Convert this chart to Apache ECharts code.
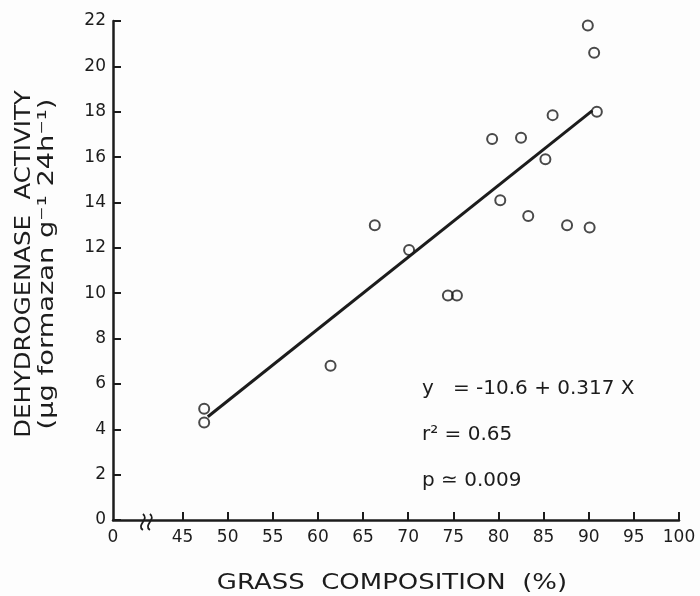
<!DOCTYPE html>
<html>
<head>
<meta charset="utf-8">
<script src="https://cdn.jsdelivr.net/npm/echarts@6/dist/echarts.min.js"></script>
<style>
  html, body { margin: 0; padding: 0; background: #fdfdfd; }
  #chart { width: 700px; height: 596px; }
</style>
</head>
<body>
<div id="chart"></div>
<script>
// grass composition (%) vs dehydrogenase activity
const grassPct = [47.4, 47.4, 61.4, 66.3, 70.1, 74.4, 75.4, 79.3, 80.2, 82.5, 83.3, 85.2, 86.0, 87.6, 89.9, 90.1, 90.6, 90.9]
const activity = [4.9, 4.3, 6.8, 13.0, 11.9, 9.9, 9.9, 16.8, 14.1, 16.85, 13.4, 15.9, 17.85, 13.0, 21.8, 12.9, 20.6, 18.0]

// fitted line end points
const fitX = [47.8, 90.4]
const fitY = [4.55, 18.05]

const xTicks = [45, 50, 55, 60, 65, 70, 75, 80, 85, 90, 95, 100]
const xAxisStart = 37.3 // where the broken axis shows "0"
const breakAt = 41.0

const ink = '#1c1c1c'
const font = 'DejaVu Sans'

const chart = echarts.init(document.getElementById('chart'))

chart.setOption({
  backgroundColor: '#fdfdfd',
  animation: false,
  grid: { left: 113, right: 21, top: 21, bottom: 76 },
  xAxis: {
    type: 'value',
    min: xAxisStart,
    max: 100,
    splitLine: { show: false },
    axisLine: { lineStyle: { color: ink, width: 2.5 } },
    axisTick: { inside: true, length: 8, customValues: xTicks, lineStyle: { color: ink, width: 2 } },
    axisLabel: {
      customValues: [xAxisStart].concat(xTicks),
      formatter: (v) => (v === xAxisStart ? '0' : String(v)),
      color: ink,
      fontFamily: font,
      fontSize: 17,
      margin: 9
    }
  },
  yAxis: {
    type: 'value',
    min: 0,
    max: 22,
    interval: 2,
    splitLine: { show: false },
    axisLine: { show: true, lineStyle: { color: ink, width: 2.5 } },
    axisTick: { show: true, inside: true, length: 8, lineStyle: { color: ink, width: 2 } },
    axisLabel: { color: ink, fontFamily: font, fontSize: 17, margin: 7 }
  },
  series: [
    {
      type: 'line',
      data: fitX.map((x, i) => [x, fitY[i]]),
      symbol: 'none',
      lineStyle: { color: ink, width: 3 },
      z: 2
    },
    {
      type: 'scatter',
      data: grassPct.map((x, i) => [x, activity[i]]),
      symbol: 'circle',
      symbolSize: 10,
      itemStyle: { color: 'rgba(0,0,0,0)', borderColor: ink, borderWidth: 2 },
      z: 3
    }
  ]
})

const [bx, by] = chart.convertToPixel({ gridIndex: 0 }, [breakAt, 0])
const squiggle = (dx) => ({
  type: 'bezierCurve',
  shape: { x1: dx, y1: -8, cpx1: dx + 7, cpy1: -3, cpx2: dx - 7, cpy2: 3, x2: dx, y2: 8 },
  style: { stroke: ink, lineWidth: 1.8, fill: null }
})

function label(text, x, y, size, opts) {
  return Object.assign({
    type: 'text', x: x, y: y,
    style: { text: text, font: size + 'px "' + font + '"', fill: ink, align: 'center', verticalAlign: 'middle' }
  }, opts || {})
}

chart.setOption({
  graphic: [
    { type: 'group', x: bx, y: by + 2, children: [squiggle(-3.5), squiggle(3.5)] },
    label('DEHYDROGENASE  ACTIVITY', 24, 264, 22, { rotation: Math.PI / 2, scaleX: 1.11 }),
    label('(\u03bcg formazan g\u207b\u00b9 24h\u207b\u00b9)', 48, 264, 21, { rotation: Math.PI / 2, scaleX: 1.3 }),
    label('GRASS  COMPOSITION  (%)', 392, 583, 22, { scaleX: 1.18 }),
    {
      type: 'text', x: 422, y: 389,
      style: { text: 'y   = -10.6 + 0.317 X', font: '20px "' + font + '"', fill: ink, align: 'left', verticalAlign: 'middle' }
    },
    {
      type: 'text', x: 422, y: 435,
      style: { text: 'r\u00b2 = 0.65', font: '20px "' + font + '"', fill: ink, align: 'left', verticalAlign: 'middle' }
    },
    {
      type: 'text', x: 422, y: 481,
      style: { text: 'p \u2243 0.009', font: '20px "' + font + '"', fill: ink, align: 'left', verticalAlign: 'middle' }
    }
  ]
})
</script>
</body>
</html>
